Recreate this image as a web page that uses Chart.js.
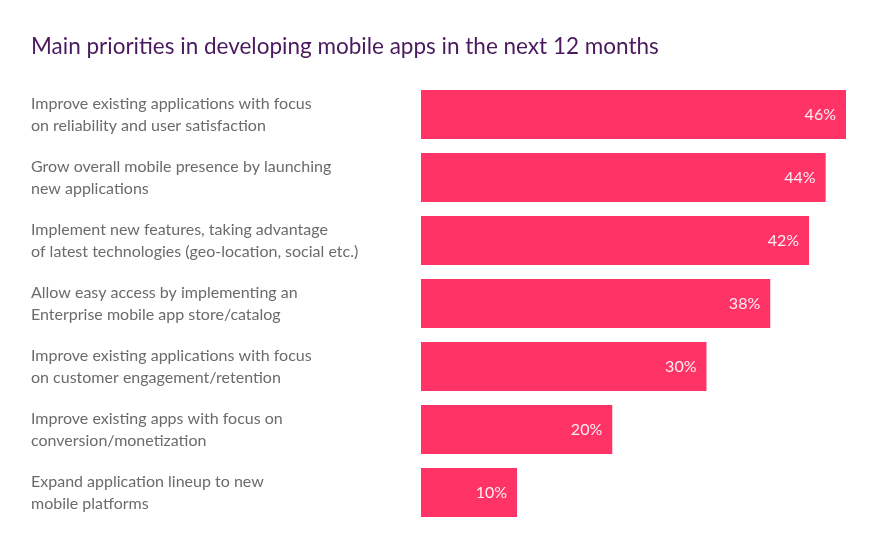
<!DOCTYPE html>
<html>
<head>
<meta charset="utf-8">
<script src="https://cdn.jsdelivr.net/npm/chart.js@4.4.1/dist/chart.umd.min.js"></script>
<style>
html,body{margin:0;padding:0;background:#fff;}
#wrap{width:874px;height:553px;position:relative;}
</style>
</head>
<body>
<div id="wrap"><canvas id="c"></canvas></div>
<script>
const TITLE = 'Main priorities in developing mobile apps in the next 12 months';
const categories = [
  ['Improve existing applications with focus', 'on reliability and user satisfaction'],
  ['Grow overall mobile presence by launching', 'new applications'],
  ['Implement new features, taking advantage', 'of latest technologies (geo-location, social etc.)'],
  ['Allow easy access by implementing an', 'Enterprise mobile app store/catalog'],
  ['Improve existing applications with focus', 'on customer engagement/retention'],
  ['Improve existing apps with focus on', 'conversion/monetization'],
  ['Expand application lineup to new', 'mobile platforms']
];
// printed percentages
const valueLabels = [46, 44, 42, 38, 30, 20, 10];
// bar lengths as drawn in the picture (estimated)
const barValues = [46, 43.8, 42, 37.8, 30.9, 20.7, 10.4];

const FONT = "Lato, sans-serif";

const valueLabelPlugin = {
  id: 'valueLabels',
  afterDatasetsDraw(chart) {
    const ctx = chart.ctx;
    const meta = chart.getDatasetMeta(0);
    ctx.save();
    ctx.font = '16px ' + FONT;
    ctx.fillStyle = '#fdeef2';
    ctx.textAlign = 'right';
    ctx.textBaseline = 'middle';
    meta.data.forEach((bar, i) => {
      ctx.fillText(valueLabels[i] + '%', bar.x - 10, bar.y);
    });
    ctx.restore();
  }
};

new Chart(document.getElementById('c'), {
  type: 'bar',
  data: {
    labels: categories,
    datasets: [{
      data: barValues,
      backgroundColor: '#ff3366',
      borderWidth: 0,
      barPercentage: 0.778,
      categoryPercentage: 1.0
    }]
  },
  options: {
    indexAxis: 'y',
    responsive: true,
    maintainAspectRatio: false,
    animation: false,
    layout: { padding: { left: 31, right: 28, top: 0, bottom: 29 } },
    plugins: {
      legend: { display: false },
      tooltip: { enabled: false },
      title: {
        display: true,
        text: TITLE,
        align: 'start',
        color: '#4a1a5e',
        font: { family: FONT, size: 22.5, weight: 'normal', lineHeight: 1.2 },
        padding: { top: 33, bottom: 23 }
      }
    },
    scales: {
      x: {
        display: false,
        min: 0,
        max: 46
      },
      y: {
        grid: { display: false, drawTicks: false },
        border: { display: false },
        ticks: {
          crossAlign: 'far',
          color: '#6b6b6b',
          padding: 0,
          font: { family: FONT, size: 16, lineHeight: 22 / 16 }
        },
        afterFit(scale) { scale.width = 390; }
      }
    }
  },
  plugins: [valueLabelPlugin]
});
</script>
</body>
</html>
